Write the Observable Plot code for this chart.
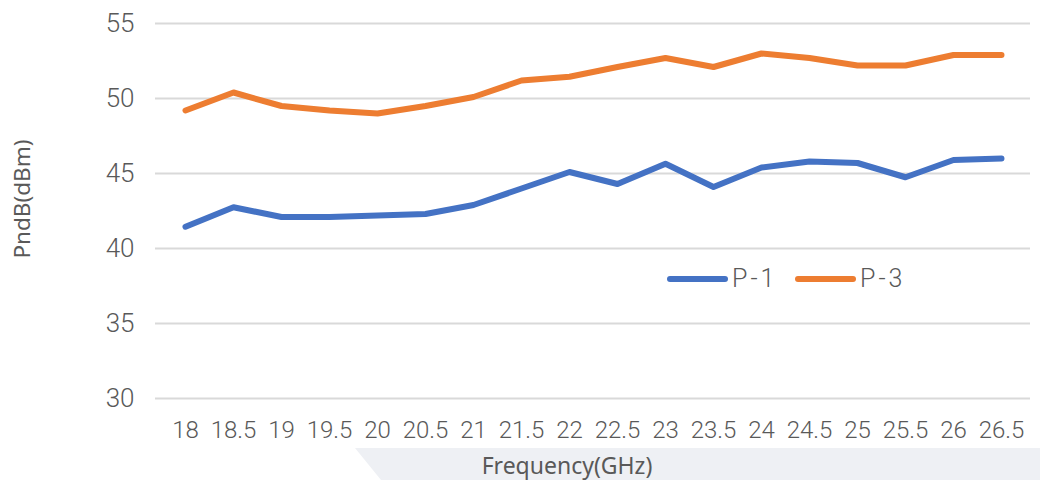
<!DOCTYPE html>
<html><head><meta charset="utf-8">
<script src="https://cdn.jsdelivr.net/npm/d3@7"></script>
<script src="https://cdn.jsdelivr.net/npm/@observablehq/plot@0.6"></script>
<style>
body{margin:0;background:#fff}
#wrap{position:relative;width:1040px;height:480px;overflow:hidden;background:#fff}
#band{position:absolute;left:0;top:0;width:1040px;height:480px;background:#eef0f4;clip-path:polygon(355px 448px,1040px 448px,1040px 480px,381px 480px);z-index:0}
#chart{position:absolute;left:0;top:0;z-index:1}
.t{position:absolute;z-index:2;color:#595959;font-family:"Noto Sans","Open Sans",sans-serif;white-space:nowrap;line-height:1}
#xt{left:567px;top:465px;transform:translate(-50%,-50%);font-size:23px}
#yt{left:22px;top:199px;transform:translate(-50%,-50%) rotate(-90deg);font-size:22.5px}
.lg{position:absolute;z-index:2;display:flex;align-items:center;font-family:Roboto,sans-serif;font-weight:300;font-size:25px;color:#595959;letter-spacing:3px}
.sw{display:inline-block;width:61px;height:6px;border-radius:3px;margin-right:4px}
</style></head><body>
<div id="wrap"><div id="band"></div><div id="chart"></div>
<div class="t" id="xt">Frequency(GHz)</div>
<div class="t" id="yt">PndB(dBm)</div>
<div id="legend"></div>
</div>
<script>
const freqs = ["18","18.5","19","19.5","20","20.5","21","21.5","22","22.5","23","23.5","24","24.5","25","25.5","26","26.5"];
const p1 = [41.45,42.75,42.1,42.1,42.2,42.3,42.9,44.0,45.1,44.3,45.65,44.1,45.4,45.8,45.7,44.75,45.9,46.0];
const p3 = [49.2,50.4,49.5,49.2,49.0,49.5,50.1,51.2,51.45,52.1,52.7,52.1,53.0,52.7,52.2,52.2,52.9,52.9];
const yTicks = [30,35,40,45,50,55];
const seriesNames = ["P-1","P-3"];
const seriesColors = ["#4472C4","#ED7D31"];

const data = freqs.flatMap((f,i)=>[{f, v:p1[i], s:seriesNames[0]},{f, v:p3[i], s:seriesNames[1]}]);

const chart = Plot.plot({
  width:1040, height:480,
  marginLeft:155, marginRight:10, marginTop:23, marginBottom:82,
  x:{type:"point", domain:freqs, padding:0.5},
  y:{domain:[30,55]},
  color:{domain:seriesNames, range:seriesColors},
  style:{fontFamily:"Roboto,sans-serif", fontWeight:300, fontSize:"24px", color:"#595959", background:"transparent"},
  marks:[
    Plot.ruleY(yTicks,{stroke:"#d9d9d9", strokeWidth:2}),
    Plot.axisY({ticks:yTicks, tickSize:0, tickPadding:21, label:null, fontSize:26, fill:"#595959"}),
    Plot.axisX({tickSize:0, tickPadding:22, label:null, fontSize:24, fill:"#595959"}),
    Plot.line(data,{x:"f", y:"v", stroke:"s", strokeWidth:6, strokeLinecap:"round", strokeLinejoin:"round"})
  ]
});
chart.style.fontWeight = "300";
document.getElementById("chart").appendChild(chart);

const legendPos = [667, 795];
const lg = document.getElementById("legend");
seriesNames.forEach((n,i)=>{
  const d = document.createElement("div");
  d.className = "lg";
  d.style.left = legendPos[i] + "px";
  d.style.top = "264px";
  d.innerHTML = `<span class="sw" style="background:${seriesColors[i]}"></span><span>${n}</span>`;
  lg.appendChild(d);
});
</script>
</body></html>
